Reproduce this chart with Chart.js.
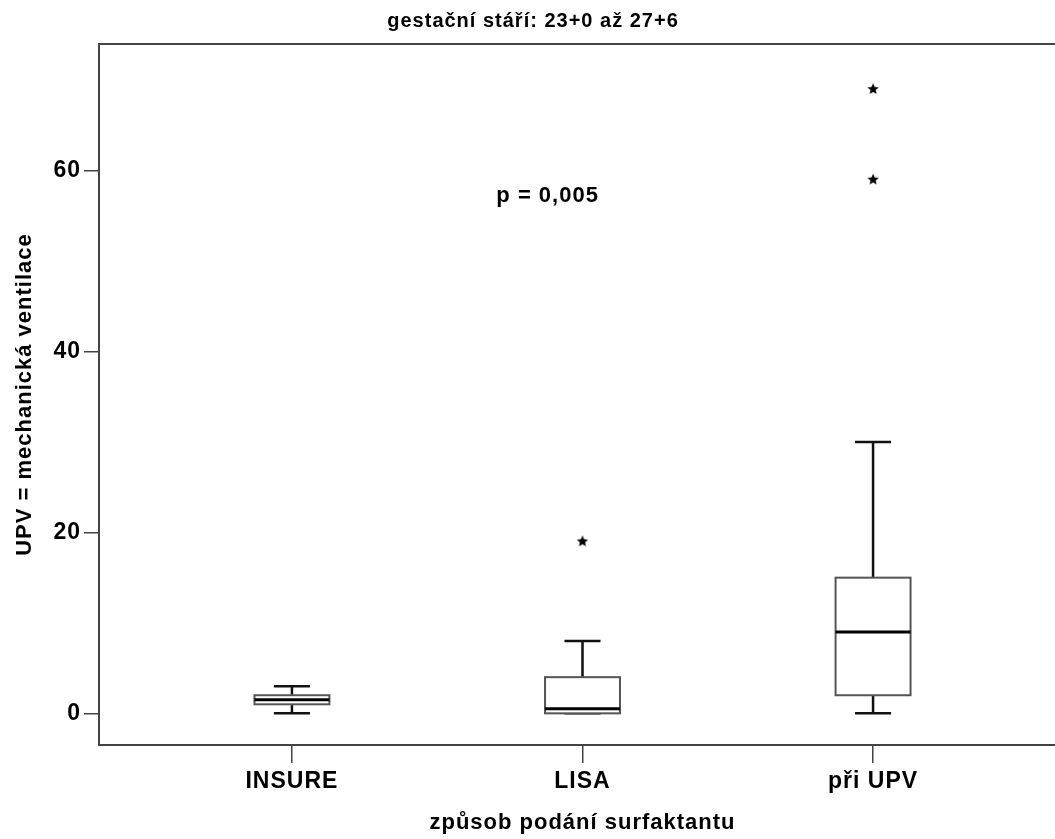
<!DOCTYPE html>
<html>
<head>
<meta charset="utf-8">
<title>UPV boxplot</title>
<script src="https://cdn.jsdelivr.net/npm/chart.js@4.4.0/dist/chart.umd.min.js"></script>
<style>
  body { margin: 0; background: #fff; overflow: hidden; }
  #wrap { width: 1080px; height: 839px; }
</style>
</head>
<body>
<div id="wrap"><canvas id="box-chart" width="1080" height="839"></canvas></div>
<script>
// data
const categories = ['INSURE', 'LISA', 'při UPV'];
const whiskerLow = [0, 0, 0];
const q1 = [1, 0, 2];
const median = [1.5, 0.5, 9];
const q3 = [2, 4, 15];
const whiskerHigh = [3, 8, 30];
const outlierGroup = [2, 3, 3];
const outlierValue = [19, 69, 59];
const yTicks = [0, 20, 40, 60];

const chartTitle = 'gestační stáří: 23+0 až 27+6';
const pLabel = 'p = 0,005';

const FONT = '"Liberation Sans", Arial, sans-serif';
const AXIS_COLOR = '#444';

// small filled star used for the outliers
function makeStar(r) {
  const c = document.createElement('canvas');
  const s = Math.ceil(r * 2 + 2);
  c.width = s;
  c.height = s;
  const g = c.getContext('2d');
  g.fillStyle = '#000';
  g.beginPath();
  for (let k = 0; k < 10; k++) {
    const rad = k % 2 === 0 ? r : r * 0.45;
    const a = -Math.PI / 2 + k * Math.PI / 5;
    const px = s / 2 + rad * Math.cos(a);
    const py = s / 2 + rad * Math.sin(a);
    if (k === 0) g.moveTo(px, py); else g.lineTo(px, py);
  }
  g.closePath();
  g.fill();
  return c;
}

const boxPlugin = {
  id: 'boxes',
  beforeDraw(chart) {
    chart.ctx.letterSpacing = '1px';
  },
  afterDatasetsDraw(chart) {
    const { ctx, chartArea } = chart;
    const xs = chart.scales.x;
    const ys = chart.scales.y;
    const boxHalf = 0.129;
    const capHalf = 0.062;

    ctx.save();
    // top/right frame
    ctx.strokeStyle = AXIS_COLOR;
    ctx.lineWidth = 2;
    ctx.beginPath();
    ctx.moveTo(chartArea.left, chartArea.top);
    ctx.lineTo(chartArea.right, chartArea.top);
    ctx.lineTo(chartArea.right, chartArea.bottom);
    ctx.stroke();

    categories.forEach((c, i) => {
      const xc = xs.getPixelForValue(i + 1);
      const bw = xs.getPixelForValue(i + 1 + boxHalf) - xc;
      const cw = xs.getPixelForValue(i + 1 + capHalf) - xc;
      const yLo = ys.getPixelForValue(whiskerLow[i]);
      const yQ1 = ys.getPixelForValue(q1[i]);
      const yMed = ys.getPixelForValue(median[i]);
      const yQ3 = ys.getPixelForValue(q3[i]);
      const yHi = ys.getPixelForValue(whiskerHigh[i]);

      // whiskers
      ctx.strokeStyle = '#111';
      ctx.lineWidth = 2.5;
      ctx.beginPath();
      ctx.moveTo(xc, yQ3); ctx.lineTo(xc, yHi);
      ctx.moveTo(xc - cw, yHi); ctx.lineTo(xc + cw, yHi);
      ctx.moveTo(xc, yQ1); ctx.lineTo(xc, yLo);
      ctx.moveTo(xc - cw, yLo); ctx.lineTo(xc + cw, yLo);
      ctx.stroke();

      // box
      ctx.fillStyle = '#fff';
      ctx.fillRect(xc - bw, yQ3, bw * 2, yQ1 - yQ3);
      ctx.strokeStyle = '#555';
      ctx.lineWidth = 2;
      ctx.strokeRect(xc - bw, yQ3, bw * 2, yQ1 - yQ3);

      // median
      ctx.strokeStyle = '#000';
      ctx.lineWidth = 3;
      ctx.beginPath();
      ctx.moveTo(xc - bw, yMed);
      ctx.lineTo(xc + bw, yMed);
      ctx.stroke();
    });

    // p-value note
    ctx.fillStyle = '#000';
    ctx.font = 'bold 22px ' + FONT;
    ctx.textAlign = 'center';
    ctx.textBaseline = 'middle';
    ctx.fillText(pLabel, xs.getPixelForValue(1.88), ys.getPixelForValue(57.2));
    ctx.restore();
  }
};

new Chart(document.getElementById('box-chart'), {
  type: 'scatter',
  data: {
    datasets: [{
      label: 'outliers',
      data: outlierValue.map((v, i) => ({ x: outlierGroup[i], y: v })),
      pointStyle: makeStar(6),
      radius: 6,
      hoverRadius: 6
    }]
  },
  options: {
    responsive: false,
    animation: false,
    layout: { padding: { left: 0, right: 14, top: 0, bottom: 0 } },
    plugins: {
      legend: { display: false },
      tooltip: { enabled: false },
      title: {
        display: true,
        text: chartTitle,
        color: '#000',
        font: { family: FONT, size: 20, weight: 'bold' },
        padding: { top: 9, bottom: 11 }
      }
    },
    scales: {
      x: {
        type: 'linear',
        min: 0.336,
        max: 3.664,
        afterBuildTicks: (s) => { s.ticks = categories.map((c, i) => ({ value: i + 1 })); },
        afterFit: (s) => { s.height = 94; },
        ticks: {
          color: '#000',
          font: { family: FONT, size: 23, weight: 'bold' },
          padding: 5,
          callback: (v) => categories[v - 1]
        },
        grid: { drawOnChartArea: false, drawTicks: true, tickLength: 18, color: AXIS_COLOR, lineWidth: 1.5 },
        border: { display: true, color: AXIS_COLOR, width: 2 },
        title: {
          display: true,
          text: 'způsob podání surfaktantu',
          color: '#000',
          font: { family: FONT, size: 22, weight: 'bold' },
          padding: { top: 0, bottom: 3 }
        }
      },
      y: {
        min: -3.5,
        max: 74,
        afterBuildTicks: (s) => { s.ticks = yTicks.map(v => ({ value: v })); },
        afterFit: (s) => { s.width = 99; },
        ticks: {
          color: '#000',
          font: { family: FONT, size: 23, weight: 'bold' },
          padding: 3
        },
        grid: { drawOnChartArea: false, drawTicks: true, tickLength: 15, color: AXIS_COLOR, lineWidth: 1.5 },
        border: { display: true, color: AXIS_COLOR, width: 2 },
        title: {
          display: true,
          text: 'UPV = mechanická ventilace',
          color: '#000',
          font: { family: FONT, size: 22, weight: 'bold' },
          padding: { top: 11.8, bottom: 0 }
        }
      }
    }
  },
  plugins: [boxPlugin]
});
</script>
</body>
</html>
